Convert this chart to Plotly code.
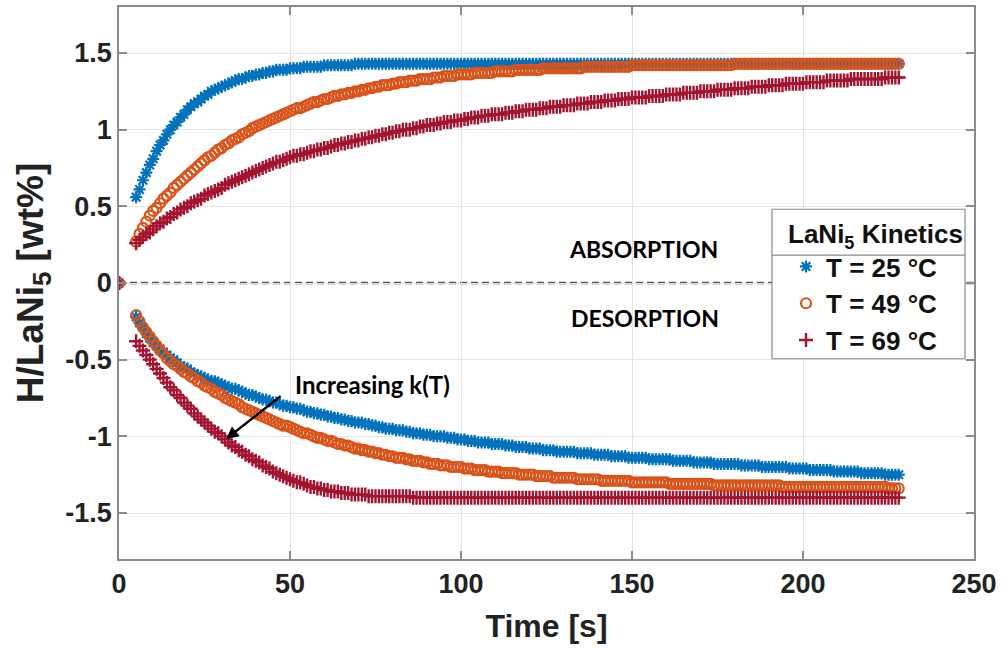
import plotly.graph_objects as go

# ---------------- data ----------------
time_s = [0] + list(range(5, 229))

abs_25 = [0.0,
    0.56, 0.61, 0.67, 0.72, 0.77, 0.81, 0.86, 0.90, 0.93, 0.97,
    1.00, 1.03, 1.05, 1.08, 1.10, 1.13, 1.15, 1.17, 1.18, 1.20,
    1.22, 1.23, 1.25, 1.26, 1.27, 1.28, 1.29, 1.30, 1.31, 1.32,
    1.33, 1.33, 1.34, 1.35, 1.35, 1.36, 1.36, 1.37, 1.37, 1.38,
    1.38, 1.39, 1.39, 1.39, 1.39, 1.40, 1.40, 1.40, 1.40, 1.41,
    1.41, 1.41, 1.41, 1.41, 1.41, 1.42, 1.42, 1.42, 1.42, 1.42,
    1.42, 1.42, 1.42, 1.42, 1.43,
    1.43, 1.43, 1.43, 1.43, 1.43, 1.43, 1.43, 1.43, 1.43, 1.43,
    1.43, 1.43, 1.43, 1.43, 1.43, 1.43, 1.43, 1.43, 1.43, 1.43,
    1.43, 1.43, 1.43, 1.43, 1.43, 1.43, 1.43, 1.43, 1.43, 1.43,
    1.43, 1.43, 1.43, 1.43, 1.43, 1.43, 1.43, 1.43, 1.43, 1.43,
    1.43, 1.43, 1.43, 1.43, 1.43, 1.43, 1.43, 1.43, 1.43, 1.43,
    1.43, 1.43, 1.43, 1.43, 1.43, 1.43, 1.43, 1.43, 1.43, 1.43,
    1.43, 1.43, 1.43, 1.43, 1.43, 1.43, 1.43, 1.43, 1.43, 1.43,
    1.43, 1.43, 1.43, 1.43, 1.43, 1.43, 1.43, 1.43, 1.43, 1.43,
    1.43, 1.43, 1.43, 1.43, 1.43, 1.43, 1.43, 1.43, 1.43, 1.43,
    1.43, 1.43, 1.43, 1.43, 1.43, 1.43, 1.43, 1.43, 1.43, 1.43,
    1.43, 1.43, 1.43, 1.43, 1.43, 1.43, 1.43, 1.43, 1.43, 1.43,
    1.43, 1.43, 1.43, 1.43, 1.43, 1.43, 1.43, 1.43, 1.43, 1.43,
    1.43, 1.43, 1.43, 1.43, 1.43, 1.43, 1.43, 1.43, 1.43, 1.43,
    1.43, 1.43, 1.43, 1.43, 1.43, 1.43, 1.43, 1.43, 1.43, 1.43,
    1.43, 1.43, 1.43, 1.43, 1.43, 1.43, 1.43, 1.43, 1.43, 1.43,
    1.43, 1.43, 1.43, 1.43, 1.43, 1.43, 1.43, 1.43, 1.43]

abs_49 = [0.0,
    0.27, 0.32, 0.36, 0.40, 0.44, 0.47, 0.49, 0.52, 0.55, 0.57,
    0.59, 0.62, 0.64, 0.66, 0.68, 0.70, 0.72, 0.74, 0.76, 0.78,
    0.80, 0.82, 0.83, 0.85, 0.87, 0.88, 0.90, 0.91, 0.93, 0.94,
    0.95, 0.97, 0.98, 0.99, 1.01, 1.02, 1.03, 1.04, 1.05, 1.06,
    1.07, 1.08, 1.09, 1.10, 1.11, 1.12, 1.13, 1.14, 1.14, 1.15,
    1.16, 1.17, 1.18, 1.18, 1.19, 1.20, 1.20, 1.21, 1.22, 1.22,
    1.23, 1.23, 1.24, 1.24, 1.25, 1.25, 1.26, 1.26, 1.27, 1.27,
    1.28, 1.28, 1.29, 1.29, 1.29, 1.30, 1.30, 1.31, 1.31, 1.31,
    1.32, 1.32, 1.32, 1.33, 1.33, 1.33, 1.33, 1.34, 1.34, 1.34,
    1.35, 1.35, 1.35, 1.35, 1.36, 1.36, 1.36, 1.36, 1.36, 1.37,
    1.37, 1.37, 1.37, 1.37, 1.37, 1.38, 1.38, 1.38, 1.38, 1.38,
    1.38, 1.39, 1.39, 1.39, 1.39, 1.39, 1.39, 1.39, 1.39, 1.40,
    1.40, 1.40, 1.40, 1.40, 1.40, 1.40, 1.40, 1.40, 1.40, 1.40,
    1.40,
    1.41, 1.41, 1.41, 1.41, 1.41, 1.41, 1.41, 1.41, 1.41, 1.41,
    1.41, 1.41, 1.41, 1.41,
    1.42, 1.42, 1.42, 1.42, 1.42, 1.42, 1.42, 1.42, 1.42, 1.42,
    1.42, 1.42, 1.42, 1.42, 1.42, 1.42, 1.42, 1.42, 1.42, 1.42,
    1.42, 1.42, 1.42, 1.42, 1.42, 1.42, 1.42, 1.42, 1.42, 1.42,
    1.43, 1.43, 1.43, 1.43, 1.43, 1.43, 1.43, 1.43, 1.43, 1.43,
    1.43, 1.43, 1.43, 1.43, 1.43, 1.43, 1.43, 1.43, 1.43, 1.43,
    1.43, 1.43, 1.43, 1.43, 1.43, 1.43, 1.43, 1.43, 1.43, 1.43,
    1.43, 1.43, 1.43, 1.43, 1.43, 1.43, 1.43, 1.43, 1.43, 1.43,
    1.43, 1.43, 1.43, 1.43, 1.43, 1.43, 1.43, 1.43, 1.43]

abs_69 = [0.0,
    0.26, 0.28, 0.30, 0.32, 0.33, 0.35, 0.37, 0.39, 0.40, 0.42,
    0.43, 0.45, 0.46, 0.48, 0.49, 0.50, 0.52, 0.53, 0.54, 0.55,
    0.57, 0.58, 0.59, 0.60, 0.61, 0.62, 0.64, 0.65, 0.66, 0.67,
    0.68, 0.69, 0.70, 0.71, 0.72, 0.73, 0.74, 0.75, 0.76, 0.77,
    0.78, 0.79, 0.79, 0.80, 0.81, 0.82, 0.83, 0.83, 0.84, 0.84,
    0.85, 0.86, 0.86, 0.87, 0.87, 0.88, 0.88, 0.89, 0.90, 0.90,
    0.91, 0.91, 0.92, 0.92, 0.93, 0.93, 0.94, 0.94, 0.95, 0.95,
    0.96, 0.96, 0.97, 0.97, 0.98, 0.98, 0.99, 0.99, 1.00, 1.00,
    1.00, 1.01, 1.01, 1.02, 1.02, 1.03, 1.03, 1.03, 1.04, 1.04,
    1.05, 1.05, 1.05, 1.06, 1.06, 1.06, 1.07, 1.07, 1.08, 1.08,
    1.08, 1.09, 1.09, 1.09, 1.10, 1.10, 1.10, 1.10, 1.11, 1.11,
    1.11, 1.12, 1.12, 1.12, 1.13, 1.13, 1.13, 1.13, 1.14, 1.14,
    1.14, 1.15, 1.15, 1.15, 1.15, 1.16, 1.16, 1.16, 1.16, 1.17,
    1.17, 1.17, 1.17, 1.18, 1.18, 1.18, 1.18, 1.19, 1.19, 1.19,
    1.19, 1.20, 1.20, 1.20, 1.20, 1.21, 1.21, 1.21, 1.21, 1.21,
    1.22, 1.22, 1.22, 1.22, 1.22, 1.23, 1.23, 1.23, 1.23, 1.23,
    1.24, 1.24, 1.24, 1.24, 1.24, 1.25, 1.25, 1.25, 1.25, 1.25,
    1.26, 1.26, 1.26, 1.26, 1.26, 1.27, 1.27, 1.27, 1.27, 1.27,
    1.28, 1.28, 1.28, 1.28, 1.28, 1.29, 1.29, 1.29, 1.29, 1.29,
    1.30, 1.30, 1.30, 1.30, 1.30, 1.30, 1.31, 1.31, 1.31, 1.31,
    1.31, 1.31, 1.32, 1.32, 1.32, 1.32, 1.32, 1.32, 1.32, 1.33,
    1.33, 1.33, 1.33, 1.33, 1.33, 1.33, 1.33, 1.33, 1.33, 1.34,
    1.34, 1.34, 1.34, 1.34]

des_25 = [0.0,
    -0.22, -0.26, -0.29, -0.33, -0.36, -0.39, -0.41, -0.43, -0.45, -0.47,
    -0.49, -0.50, -0.52, -0.54, -0.55, -0.56, -0.58, -0.59, -0.60, -0.61,
    -0.62, -0.63, -0.64, -0.64, -0.65, -0.66, -0.67, -0.68, -0.69, -0.69,
    -0.70, -0.71, -0.72, -0.73, -0.73, -0.74, -0.75, -0.76, -0.76, -0.77,
    -0.78, -0.78, -0.79, -0.80, -0.80, -0.81, -0.81, -0.82, -0.82, -0.83,
    -0.84, -0.84, -0.85, -0.85, -0.86, -0.86, -0.87, -0.87, -0.88, -0.88,
    -0.89, -0.89, -0.90, -0.90, -0.91, -0.91, -0.91, -0.92, -0.92, -0.93,
    -0.93, -0.94, -0.94, -0.95, -0.95, -0.95, -0.96, -0.96, -0.96, -0.97,
    -0.97, -0.98, -0.98, -0.98, -0.99, -0.99, -0.99, -1.00, -1.00, -1.00,
    -1.00, -1.01, -1.01, -1.01, -1.02, -1.02, -1.02, -1.03, -1.03, -1.03,
    -1.04, -1.04, -1.04, -1.04, -1.05, -1.05, -1.05, -1.05, -1.06, -1.06,
    -1.06, -1.07, -1.07, -1.07, -1.07, -1.08, -1.08, -1.08, -1.08, -1.09,
    -1.09, -1.09, -1.09, -1.10, -1.10, -1.10, -1.10, -1.10, -1.10, -1.11,
    -1.11, -1.11, -1.11, -1.11, -1.12, -1.12, -1.12, -1.12, -1.12, -1.13,
    -1.13, -1.13, -1.13, -1.13, -1.14, -1.14, -1.14, -1.14, -1.14, -1.14,
    -1.15, -1.15, -1.15, -1.15, -1.15, -1.15, -1.15, -1.16, -1.16, -1.16,
    -1.16, -1.16, -1.16, -1.17, -1.17, -1.17, -1.17, -1.17, -1.17, -1.18,
    -1.18, -1.18, -1.18, -1.18, -1.18, -1.18, -1.18, -1.19, -1.19, -1.19,
    -1.19, -1.19, -1.19, -1.20, -1.20, -1.20, -1.20, -1.20, -1.20, -1.20,
    -1.20, -1.21, -1.21, -1.21, -1.21, -1.21, -1.21, -1.22, -1.22, -1.22,
    -1.22, -1.22, -1.22, -1.22, -1.23, -1.23, -1.23, -1.23, -1.23, -1.23,
    -1.23, -1.23, -1.24, -1.24, -1.24, -1.24, -1.24, -1.24, -1.24, -1.25,
    -1.25, -1.25, -1.25, -1.25]

des_49 = [0.0,
    -0.21, -0.25, -0.29, -0.32, -0.35, -0.38, -0.41, -0.44, -0.46, -0.49,
    -0.51, -0.53, -0.54, -0.56, -0.58, -0.59, -0.61, -0.62, -0.64, -0.65,
    -0.67, -0.68, -0.69, -0.71, -0.72, -0.73, -0.75, -0.76, -0.77, -0.78,
    -0.79, -0.81, -0.82, -0.83, -0.84, -0.85, -0.86, -0.87, -0.88, -0.89,
    -0.90, -0.91, -0.92, -0.93, -0.93, -0.94, -0.95, -0.96, -0.97, -0.98,
    -0.98, -0.99, -1.00, -1.01, -1.01, -1.02, -1.03, -1.03, -1.04, -1.05,
    -1.05, -1.06, -1.06, -1.07, -1.08, -1.08, -1.09, -1.09, -1.10, -1.10,
    -1.11, -1.11, -1.12, -1.12, -1.13, -1.13, -1.14, -1.14, -1.14, -1.15,
    -1.15, -1.16, -1.16, -1.16, -1.17, -1.17, -1.18, -1.18, -1.18, -1.19,
    -1.19, -1.19, -1.20, -1.20, -1.20, -1.20, -1.21, -1.21, -1.21, -1.22,
    -1.22, -1.22, -1.22, -1.23, -1.23, -1.23, -1.23, -1.24, -1.24, -1.24,
    -1.24, -1.24, -1.25, -1.25, -1.25, -1.25, -1.25, -1.26, -1.26, -1.26,
    -1.26, -1.26, -1.27, -1.27, -1.27, -1.27, -1.27, -1.27, -1.27, -1.28,
    -1.28, -1.28, -1.28, -1.28, -1.28, -1.28, -1.29, -1.29, -1.29, -1.29,
    -1.29, -1.29, -1.29, -1.29, -1.29,
    -1.30, -1.30, -1.30, -1.30, -1.30, -1.30, -1.30, -1.30, -1.30, -1.30,
    -1.30,
    -1.31, -1.31, -1.31, -1.31, -1.31, -1.31, -1.31, -1.31, -1.31, -1.31,
    -1.31, -1.31, -1.31,
    -1.32, -1.32, -1.32, -1.32, -1.32, -1.32, -1.32, -1.32, -1.32, -1.32,
    -1.32, -1.32, -1.32, -1.32, -1.32, -1.32, -1.32, -1.32, -1.32, -1.32,
    -1.33, -1.33, -1.33, -1.33, -1.33, -1.33, -1.33, -1.33, -1.33, -1.33,
    -1.33, -1.33, -1.33, -1.33, -1.33, -1.33, -1.33, -1.33, -1.33, -1.33,
    -1.33, -1.33, -1.33, -1.33, -1.33, -1.33, -1.33, -1.33, -1.33, -1.33,
    -1.33,
    -1.34, -1.34, -1.34, -1.34]

des_69 = [0.0,
    -0.38, -0.41, -0.44, -0.47, -0.50, -0.53, -0.56, -0.59, -0.62, -0.65,
    -0.68, -0.70, -0.73, -0.75, -0.78, -0.80, -0.82, -0.85, -0.87, -0.89,
    -0.91, -0.93, -0.95, -0.97, -0.98, -1.00, -1.02, -1.04, -1.06, -1.07,
    -1.09, -1.10, -1.12, -1.13, -1.15, -1.16, -1.17, -1.19, -1.20, -1.21,
    -1.23, -1.24, -1.25, -1.26, -1.27, -1.28, -1.29, -1.30, -1.30, -1.31,
    -1.32, -1.33, -1.33, -1.34, -1.34, -1.35, -1.35, -1.36, -1.36, -1.36,
    -1.37, -1.37, -1.37, -1.38, -1.38, -1.38, -1.38, -1.38, -1.39, -1.39,
    -1.39, -1.39, -1.39, -1.39, -1.39, -1.39, -1.39, -1.39, -1.39, -1.39,
    -1.39,
    -1.40, -1.40, -1.40, -1.40, -1.40, -1.40, -1.40, -1.40, -1.40, -1.40,
    -1.40, -1.40, -1.40, -1.40, -1.40, -1.40, -1.40, -1.40, -1.40, -1.40,
    -1.40, -1.40, -1.40, -1.40, -1.40, -1.40, -1.40, -1.40, -1.40, -1.40,
    -1.40, -1.40, -1.40, -1.40, -1.40, -1.40, -1.40, -1.40, -1.40, -1.40,
    -1.40, -1.40, -1.40, -1.40, -1.40, -1.40, -1.40, -1.40, -1.40, -1.40,
    -1.40, -1.40, -1.40, -1.40, -1.40, -1.40, -1.40, -1.40, -1.40, -1.40,
    -1.40, -1.40, -1.40, -1.40, -1.40, -1.40, -1.40, -1.40, -1.40, -1.40,
    -1.40, -1.40, -1.40, -1.40, -1.40, -1.40, -1.40, -1.40, -1.40, -1.40,
    -1.40, -1.40, -1.40, -1.40, -1.40, -1.40, -1.40, -1.40, -1.40, -1.40,
    -1.40, -1.40, -1.40, -1.40, -1.40, -1.40, -1.40, -1.40, -1.40, -1.40,
    -1.40, -1.40, -1.40, -1.40, -1.40, -1.40, -1.40, -1.40, -1.40, -1.40,
    -1.40, -1.40, -1.40, -1.40, -1.40, -1.40, -1.40, -1.40, -1.40, -1.40,
    -1.40, -1.40, -1.40, -1.40, -1.40, -1.40, -1.40, -1.40, -1.40, -1.40,
    -1.40, -1.40, -1.40, -1.40, -1.40, -1.40, -1.40, -1.40, -1.40, -1.40,
    -1.40, -1.40, -1.40]

series_names = ["T = 25 °C", "T = 49 °C", "T = 69 °C"]
x_tick_vals = [0, 50, 100, 150, 200, 250]
x_tick_text = ["0", "50", "100", "150", "200", "250"]
y_tick_vals = [-1.5, -1, -0.5, 0, 0.5, 1, 1.5]
y_tick_text = ["-1.5", "-1", "-0.5", "0", "0.5", "1", "1.5"]

for arr in (abs_25, abs_49, abs_69, des_25, des_49, des_69):
    assert len(arr) == len(time_s), (len(arr), len(time_s))

# ---------------- styling ----------------
FONT = "Liberation Sans, Arial, sans-serif"
styles = [
    dict(color="#0072BD", symbol="asterisk-open", size=10, lw=2.2),
    dict(color="#D95319", symbol="circle-open", size=10, lw=2.2),
    dict(color="#A2142F", symbol="cross-thin-open", size=10, lw=2.4),
]
abs_data = [abs_25, abs_49, abs_69]
des_data = [des_25, des_49, des_69]

fig = go.Figure()
for i, st in enumerate(styles):
    fig.add_trace(go.Scatter(
        x=time_s, y=abs_data[i], mode="markers", name=series_names[i],
        showlegend=True,
        marker=dict(symbol=st["symbol"], size=st["size"], color=st["color"],
                    line=dict(color=st["color"], width=st["lw"]))))
for i, st in enumerate(styles):
    fig.add_trace(go.Scatter(
        x=time_s, y=des_data[i], mode="markers", name=series_names[i],
        showlegend=False,
        marker=dict(symbol=st["symbol"], size=st["size"], color=st["color"],
                    line=dict(color=st["color"], width=st["lw"]))))

axis_common = dict(
    showgrid=True, gridcolor="#e4e4e4", gridwidth=1,
    showline=True, linecolor="#8a8a8a", linewidth=1.5, mirror="ticks",
    ticks="inside", ticklen=8, tickwidth=1.5, tickcolor="#8a8a8a",
    zeroline=False,
    tickfont=dict(family=FONT, size=27, color="#222222", weight="bold"),
)

fig.update_layout(
    width=1003, height=648,
    margin=dict(l=119, r=29, t=5, b=89),
    paper_bgcolor="white", plot_bgcolor="white",
    font=dict(family=FONT, color="#222222"),
    xaxis=dict(range=[0, 250], tickmode="array", tickvals=x_tick_vals,
               ticktext=x_tick_text,
               title=dict(text="Time [s]", standoff=16,
                          font=dict(family=FONT, size=32, color="#222222", weight="bold")),
               **axis_common),
    yaxis=dict(range=[-1.8, 1.8], tickmode="array", tickvals=y_tick_vals,
               ticktext=y_tick_text,
               title=dict(text="H/LaNi<sub>5</sub> [wt%]", standoff=10,
                          font=dict(family=FONT, size=37, color="#222222", weight="bold")),
               **axis_common),
    legend=dict(
        x=0.9895, y=0.6336, xanchor="right", yanchor="top",
        bgcolor="rgba(0,0,0,0)", borderwidth=0,
        font=dict(family=FONT, size=26, color="#111111", weight="bold"),
        title=dict(text="LaNi<sub>5</sub> Kinetics", side="top",
                   font=dict(family=FONT, size=26, color="#111111", weight="bold")),
        tracegroupgap=0, itemsizing="trace",
    ),
    showlegend=True,
)

# dashed zero line
fig.add_shape(type="line", xref="paper", yref="y", x0=0, x1=1, y0=0, y1=0,
              line=dict(color="#555555", width=2.5, dash="7px,4px"), layer="below")

# legend box + title separator (drawn under the transparent legend)
fig.add_shape(type="rect", xref="paper", yref="paper", x0=0.7637, x1=0.9895,
              y0=0.3628, y1=0.6336, fillcolor="white",
              line=dict(color="#8a8a8a", width=1.2), layer="above")
fig.add_shape(type="line", xref="paper", yref="paper", x0=0.7637, x1=0.9895,
              y0=0.5505, y1=0.5505, line=dict(color="#8a8a8a", width=1.2), layer="above")

ANN_FONT = "Lato, Open Sans, sans-serif"
fig.add_annotation(x=153.5, y=0.222, xref="x", yref="y", text="ABSORPTION",
                   showarrow=False, font=dict(family=ANN_FONT, size=23, color="black", weight="bold"))
fig.add_annotation(x=153.8, y=-0.228, xref="x", yref="y", text="DESORPTION",
                   showarrow=False, font=dict(family=ANN_FONT, size=23, color="black", weight="bold"))
fig.add_annotation(x=50.9, y=-0.665, xref="x", yref="y", text="Increasing k(T)",
                   xanchor="left", showarrow=False,
                   font=dict(family=ANN_FONT, size=24, color="black", weight="bold"))
fig.add_annotation(x=31.3, y=-1.018, xref="x", yref="y", ax=47.7, ay=-0.73,
                   axref="x", ayref="y", text="", showarrow=True,
                   arrowhead=2, arrowsize=1, arrowwidth=2.5, arrowcolor="black")

fig.write_html("out.html")
